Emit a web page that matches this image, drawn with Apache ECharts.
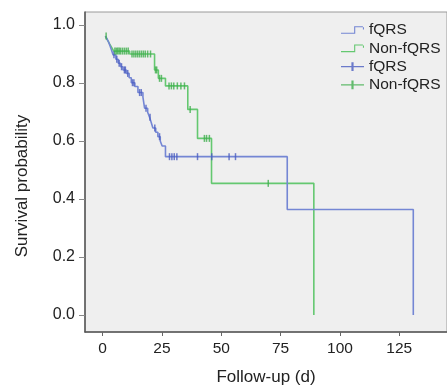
<!DOCTYPE html>
<html>
<head>
<meta charset="utf-8">
<script src="https://cdn.jsdelivr.net/npm/echarts@6/dist/echarts.min.js"></script>
<style>
html,body{margin:0;padding:0;background:#fff;}
#chart{width:447px;height:392px;}
</style>
</head>
<body>
<div id="chart"></div>
<script>
// Kaplan-Meier step data (time in days, survival probability after the step)
var fqrsTime = [1.2, 2.0, 2.6, 3.2, 3.8, 4.4, 5.6, 6.6, 7.6, 8.6, 10.0, 11.2, 12.1, 13.6, 14.9, 17.0, 17.7, 19.0, 19.8, 20.5, 21.2, 22.4, 23.3, 24.3, 25.1, 26.5, 77.8, 130.9];
var fqrsSurv = [0.962, 0.950, 0.940, 0.927, 0.913, 0.897, 0.882, 0.868, 0.856, 0.845, 0.833, 0.818, 0.801, 0.788, 0.767, 0.751, 0.713, 0.699, 0.682, 0.664, 0.645, 0.630, 0.615, 0.600, 0.583, 0.546, 0.364, 0.0];
var nonTime = [1.2, 1.8, 2.5, 3.2, 4.0, 4.7, 11.4, 21.9, 23.5, 26.5, 35.9, 40.0, 45.9, 89.0];
var nonSurv = [0.962, 0.952, 0.942, 0.931, 0.920, 0.910, 0.900, 0.845, 0.816, 0.790, 0.709, 0.609, 0.454, 0.0];
// censored observation times
var fqrsCensor = [4.8, 6.0, 7.0, 8.0, 9.2, 9.6, 10.6, 12.6, 13.2, 15.6, 16.3, 18.3, 20.0, 22.0, 24.0, 28.2, 29.2, 30.2, 31.3, 40.0, 46.0, 53.3, 56.0];
var nonCensor = [1.5, 5.2, 5.8, 6.4, 7.0, 7.6, 8.4, 9.2, 10.0, 10.8, 12.4, 13.2, 14.0, 14.8, 15.6, 16.4, 17.2, 18.0, 19.0, 20.2, 22.3, 22.8, 24.0, 24.8, 28.0, 29.0, 30.0, 31.5, 33.0, 34.5, 36.9, 42.9, 43.8, 45.0, 69.8];
// axis ticks
var xTicks = [0, 25, 50, 75, 100, 125];
var yTicks = [0, 0.2, 0.4, 0.6, 0.8, 1.0];
var legendNames = ['fQRS', 'Non-fQRS', 'fQRS ', 'Non-fQRS '];

function pairs(t, s) { return t.map(function (v, i) { return [v, s[i]]; }); }
function lookup(t, s, x) {
  var p = s[0];
  for (var i = 0; i < t.length; i++) { if (t[i] <= x) p = s[i]; }
  return p;
}
function censorPts(c, t, s) { return c.map(function (x) { return [x, lookup(t, s, x)]; }); }

var BLUE = '#7486d4', BLUE_D = '#4a5cc0';
var GREEN = '#64c870', GREEN_D = '#3fae4c';
var stepIcon = 'path://M0,8 L12,8 L12,2 L20,2 L20,5 L21,5 L21,3 L13,3 L13,9 L0,9 Z';
var plusIcon = 'path://M0,4.5 L9.5,4.5 L9.5,1 L11.5,1 L11.5,4.5 L21,4.5 L21,5.5 L11.5,5.5 L11.5,9 L9.5,9 L9.5,5.5 L0,5.5 Z';

var chart = echarts.init(document.getElementById('chart'));
chart.setOption({
  animation: false,
  backgroundColor: '#ffffff',
  textStyle: { fontFamily: 'Liberation Sans, Arial, sans-serif' },
  grid: { left: 85, top: 12, width: 364, height: 320, show: true, backgroundColor: '#efefef', borderColor: '#9a9a9a', borderWidth: 1 },
  legend: {
    orient: 'vertical', left: 336, top: 17, itemWidth: 23, itemHeight: 10, itemGap: 2.3,
    formatter: function (n) { return n.trim(); },
    textStyle: { fontSize: 15.5, color: '#222', lineHeight: 16, fontFamily: 'Liberation Sans, Arial, sans-serif' },
    itemStyle: { borderWidth: 0 },
    data: [
      { name: legendNames[0], icon: stepIcon },
      { name: legendNames[1], icon: stepIcon },
      { name: legendNames[2], icon: plusIcon },
      { name: legendNames[3], icon: plusIcon }
    ]
  },
  xAxis: {
    type: 'value', min: -7.4, max: 145.1,
    name: 'Follow-up (d)', nameLocation: 'middle', nameGap: 37,
    nameTextStyle: { fontSize: 17, color: '#222' },
    axisLine: { show: true, onZero: false, lineStyle: { color: '#555', width: 1.5 } },
    axisTick: { show: true, customValues: xTicks, length: 4, lineStyle: { color: '#666' } },
    axisLabel: { customValues: xTicks, fontSize: 15.5, color: '#222', margin: 9 },
    splitLine: { show: false }
  },
  yAxis: {
    type: 'value', min: -0.0586, max: 1.0448,
    name: 'Survival probability', nameLocation: 'middle', nameGap: 54,
    nameTextStyle: { fontSize: 17, color: '#222', padding: [0, 28, 0, 0] },
    axisLine: { show: true, onZero: false, lineStyle: { color: '#555', width: 1.5 } },
    axisTick: { show: true, customValues: yTicks, length: 6, lineStyle: { color: '#888' } },
    axisLabel: { customValues: yTicks, fontSize: 16, color: '#222', margin: 10, formatter: function (v) { return v.toFixed(1); } },
    splitLine: { show: false }
  },
  series: [
    { name: legendNames[0], type: 'line', step: 'end', symbol: 'none', color: BLUE,
      lineStyle: { color: BLUE, width: 1.6 }, data: pairs(fqrsTime, fqrsSurv), z: 3 },
    { name: legendNames[1], type: 'line', step: 'end', symbol: 'none', color: GREEN,
      lineStyle: { color: GREEN, width: 1.6 }, data: pairs(nonTime, nonSurv), z: 2 },
    { name: legendNames[2], type: 'scatter', symbol: 'rect', symbolSize: [1.5, 7], color: BLUE_D,
      itemStyle: { color: BLUE_D }, data: censorPts(fqrsCensor, fqrsTime, fqrsSurv), z: 4 },
    { name: legendNames[3], type: 'scatter', symbol: 'rect', symbolSize: [1.5, 7], color: GREEN_D,
      itemStyle: { color: GREEN_D }, data: censorPts(nonCensor, nonTime, nonSurv), z: 4 }
  ]
});
</script>
</body>
</html>
